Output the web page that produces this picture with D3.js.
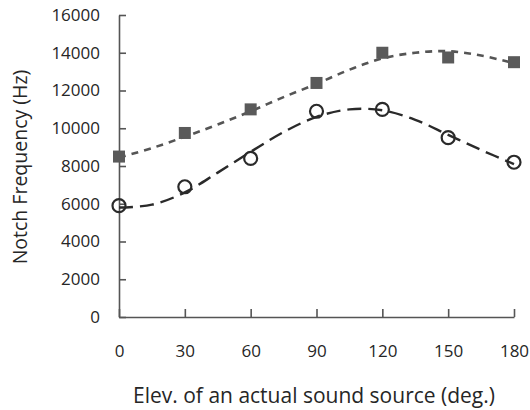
<!DOCTYPE html>
<html>
<head>
<meta charset="utf-8">
<script src="https://cdn.jsdelivr.net/npm/d3@7"></script>
<style>
body { margin: 0; background: #fff; }
svg text { font-family: "Open Sans", sans-serif; fill: #262626; }
</style>
</head>
<body>
<svg id="chart" width="530" height="410"></svg>
<script>
// elevations (deg.)
var elevs = [0, 30, 60, 90, 120, 150, 180];
// measured notch frequencies
var squareVals = [8500, 9750, 11000, 12400, 14000, 13750, 13500];
var circleVals = [5900, 6900, 8400, 10900, 11000, 9500, 8200];

// fitted trend lines, every 15 deg
var fitX = [0, 15, 30, 45, 60, 75, 90, 105, 120, 135, 150, 165, 180];
var squareFit = [8450, 8950, 9550, 10200, 10900, 11650, 12350, 13100, 13700, 14000, 14080, 13850, 13450];
var circleFit = [5800, 5950, 6600, 7650, 8750, 9800, 10600, 11000, 10950, 10450, 9650, 8850, 8100];

var yTicks = [0, 2000, 4000, 6000, 8000, 10000, 12000, 14000, 16000];

var svg = d3.select("#chart");

var xScale = d3.scaleLinear().domain([0, 180]).range([119, 514]);
var yScale = d3.scaleLinear().domain([0, 16000]).range([317, 15]);

// axes, ticks pointing inward
var xAxis = d3.axisBottom(xScale).tickValues(elevs).tickSizeInner(-8).tickSizeOuter(0).tickPadding(28);
var yAxis = d3.axisLeft(yScale).tickValues(yTicks).tickFormat(d3.format("d"))
    .tickSizeInner(-7).tickSizeOuter(0).tickPadding(19);

var gx = svg.append("g").attr("transform", "translate(0,317)").call(xAxis);
var gy = svg.append("g").attr("transform", "translate(119,0)").call(yAxis);

[gx, gy].forEach(function(g) {
    g.select(".domain").attr("stroke", "#555").attr("stroke-width", 1.6);
    g.selectAll(".tick line").attr("stroke", "#555").attr("stroke-width", 1.6);
    g.selectAll(".tick text").attr("font-size", 17).attr("fill", "#262626")
        .attr("font-family", "Open Sans, sans-serif");
});

// axis titles
svg.append("text")
    .attr("x", 314).attr("y", 403)
    .attr("text-anchor", "middle")
    .attr("font-size", 21)
    .text("Elev. of an actual sound source (deg.)");

svg.append("text")
    .attr("transform", "translate(27,167) rotate(-90)")
    .attr("text-anchor", "middle")
    .attr("font-size", 19.5)
    .text("Notch Frequency (Hz)");

var line = d3.line()
    .x(function(d) { return xScale(d[0]); })
    .y(function(d) { return yScale(d[1]); })
    .curve(d3.curveCatmullRom);

// square fit line (short dashes)
svg.append("path")
    .datum(d3.zip(fitX, squareFit))
    .attr("d", line)
    .attr("fill", "none")
    .attr("stroke", "#555")
    .attr("stroke-width", 2.6)
    .attr("stroke-dasharray", "7,6");

// circle fit line (long dashes)
svg.append("path")
    .datum(d3.zip(fitX, circleFit))
    .attr("d", line)
    .attr("fill", "none")
    .attr("stroke", "#2a2a2a")
    .attr("stroke-width", 2.4)
    .attr("stroke-dasharray", "14,7");

// square markers
svg.selectAll("rect.sq")
    .data(d3.zip(elevs, squareVals))
    .enter()
    .append("rect")
    .attr("class", "sq")
    .attr("x", function(d) { return xScale(d[0]) - 6; })
    .attr("y", function(d) { return yScale(d[1]) - 6; })
    .attr("width", 12)
    .attr("height", 12)
    .attr("fill", "#5a5a5a");

// circle markers
svg.selectAll("circle.ci")
    .data(d3.zip(elevs, circleVals))
    .enter()
    .append("circle")
    .attr("class", "ci")
    .attr("cx", function(d) { return xScale(d[0]); })
    .attr("cy", function(d) { return yScale(d[1]); })
    .attr("r", 6.5)
    .attr("fill", "none")
    .attr("stroke", "#2a2a2a")
    .attr("stroke-width", 2.2);
</script>
</body>
</html>
